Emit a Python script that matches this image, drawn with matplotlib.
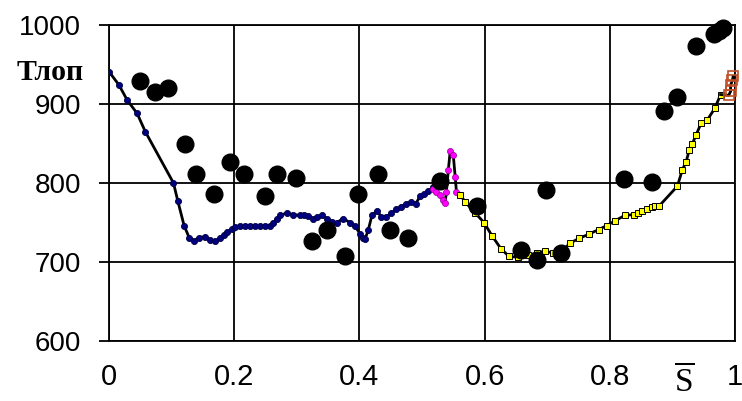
import matplotlib
matplotlib.use("Agg")
import matplotlib.pyplot as plt

# ---- data ----
blue_s = [0, 0.016, 0.029, 0.045, 0.058, 0.103, 0.110, 0.120, 0.128, 0.136, 0.144, 0.153, 0.161,
          0.169, 0.177, 0.183, 0.189, 0.196, 0.201, 0.209, 0.217, 0.225, 0.233, 0.241, 0.249,
          0.257, 0.262, 0.268, 0.273, 0.284, 0.294, 0.305, 0.312, 0.318, 0.326, 0.332, 0.340,
          0.348, 0.356, 0.364, 0.374, 0.385, 0.393, 0.401, 0.406, 0.409, 0.414, 0.420, 0.428,
          0.435, 0.443, 0.451, 0.459, 0.467, 0.475, 0.483, 0.490, 0.497, 0.503, 0.510, 0.518]
blue_T = [941, 924, 905, 888, 865, 800, 777, 746, 731, 727, 731, 732, 728,
          726, 730, 734, 738, 742, 744, 745, 745, 746, 746, 745, 746,
          746, 749, 755, 759, 762, 760, 759, 759, 758, 755, 757, 759,
          755, 751, 750, 755, 750, 745, 736, 730, 729, 740, 759, 765,
          757, 757, 762, 767, 770, 774, 776, 774, 783, 786, 790, 795]

pink_s = [0.518, 0.523, 0.529, 0.533, 0.537, 0.539, 0.542, 0.545, 0.550, 0.553, 0.555, 0.561]
pink_T = [793, 789, 785, 779, 775, 789, 816, 840, 835, 808, 789, 785]

yel_s = [0.561, 0.569, 0.585, 0.599, 0.612, 0.626, 0.639, 0.653, 0.669, 0.683, 0.696, 0.710,
         0.723, 0.737, 0.751, 0.766, 0.782, 0.795, 0.808, 0.824, 0.838, 0.845, 0.852, 0.859,
         0.867, 0.872, 0.879, 0.908, 0.916, 0.922, 0.927, 0.932, 0.938, 0.946, 0.956, 0.968, 0.977]
yel_T = [785, 776, 762, 750, 733, 717, 707, 706, 709, 711, 714, 711,
         714, 724, 730, 735, 741, 746, 752, 759, 760, 762, 764, 767,
         770, 771, 771, 796, 817, 827, 842, 850, 861, 876, 880, 895, 912]

org_s = [0.977, 0.990, 0.993, 0.993, 0.996, 0.997]
org_T = [912, 911, 916, 924, 930, 935]

exp_s = [0.050, 0.074, 0.094, 0.121, 0.139, 0.168, 0.193, 0.215, 0.249, 0.268, 0.299, 0.325,
         0.349, 0.377, 0.398, 0.430, 0.449, 0.477, 0.529, 0.588, 0.658, 0.683, 0.698, 0.722,
         0.822, 0.868, 0.887, 0.908, 0.938, 0.966, 0.975, 0.981]
exp_T = [929, 915, 920, 850, 812, 786, 826, 812, 783, 812, 806, 727,
         741, 708, 786, 812, 741, 731, 802, 771, 715, 702, 791, 711,
         805, 801, 891, 909, 974, 989, 993, 996]

xticks = [0, 0.2, 0.4, 0.6, 0.8, 1.0]
xtick_labels = ["0", "0.2", "0.4", "0.6", "0.8", "1"]
yticks = [600, 700, 800, 900, 1000]
ytick_labels = ["600", "700", "800", "900", "1000"]

# ---- figure ----
plt.rcParams['font.family'] = ['Liberation Sans', 'DejaVu Sans']
plt.rcParams['mathtext.fontset'] = 'custom'
plt.rcParams['mathtext.rm'] = 'Liberation Serif'

fig = plt.figure(figsize=(7.42, 4.01), dpi=100)
ax = fig.add_axes([109/742, 1 - 341/401, (735-109)/742, (341-25)/401])
ax.set_xlim(0, 1)
ax.set_ylim(600, 1000)

ax.set_xticks(xticks)
ax.set_xticklabels(xtick_labels, fontsize=21)
ax.set_yticks(yticks)
ax.set_yticklabels(ytick_labels, fontsize=20)
ax.tick_params(axis='x', length=0, pad=16)
ax.tick_params(axis='y', length=7.2, width=1.3, pad=13, color='black')
ax.grid(True, color='black', linewidth=1.3)
ax.set_axisbelow(True)
for sp in ax.spines.values():
    sp.set_color('black')
    sp.set_linewidth(1.3)

# model curve
ax.plot(blue_s, blue_T, color='black', lw=2.0, marker='o', ms=4.4,
        mfc='#000080', mec='#000040', mew=0.6, zorder=3)
ax.plot(pink_s, pink_T, color='black', lw=2.0, marker='o', ms=4.4,
        mfc='#ff00ff', mec='#900090', mew=0.5, zorder=3)
ax.plot(yel_s, yel_T, color='black', lw=2.0, marker='s', ms=4.6,
        mfc='#ffff00', mec='black', mew=0.7, zorder=3)
ax.plot(org_s, org_T, color='black', lw=2.0, zorder=3, clip_on=False)
ax.plot(org_s[1:], org_T[1:], linestyle='none', marker='s', ms=6.5,
        mfc='none', mec='#c0502a', mew=1.2, zorder=4, clip_on=False)

# experimental points
ax.plot(exp_s, exp_T, linestyle='none', marker='o', ms=12, color='black', zorder=5, clip_on=False)

# labels
fig.text(17/742, 1 - 80/401, "Тлоп", fontsize=21.5, fontweight='bold',
         family=['Liberation Serif', 'DejaVu Serif'], ha='left', va='baseline')
fig.text(684/742, 1 - 391/401, r"$\overline{\mathrm{S}}$", fontsize=24, ha='center', va='baseline')

fig.savefig("out.png", dpi=100)
